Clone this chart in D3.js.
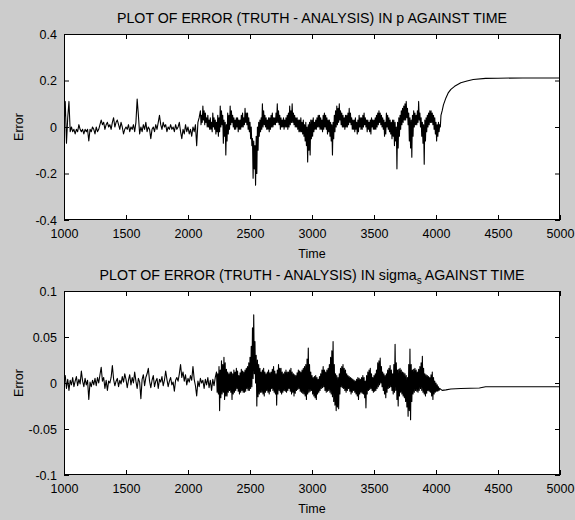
<!DOCTYPE html>
<html>
<head>
<meta charset="utf-8">
<script src="https://cdn.jsdelivr.net/npm/d3@7/dist/d3.min.js"></script>
<style>
  html, body { margin: 0; padding: 0; background: #cccccc; }
  svg { display: block; }
</style>
</head>
<body>
<script>
// ---- data --------------------------------------------------------------
// Each series is logged in three stretches: a quiet spin-up stretch sampled
// every 10 time units, a busy assimilation stretch sampled every 5 units,
// and a free-running stretch after the last analysis at irregular times.

// Error in p
const pQuietStart = 1000, pQuietStep = 10;
const pQuiet = [
  .00, .11, -.07, .04, .11, -.02, .00, -.02, -.01, -.03,
  -.01, -.02, .01, -.01, -.02, -.01, -.03, -.01, -.02, -.01,
  -.06, -.01, -.02, .00, -.01, -.03, .00, -.02, -.01, .01,
  .03, .01, .02, -.01, .01, .02, .00, .01, -.01, .02,
  .04, .00, .02, .03, .01, -.01, .02, .00, -.03, -.01,
  .00, -.01, .01, -.02, .00, -.01, .01, -.02, .02, .12,
  .05, -.03, .00, -.02, .01, -.01, .02, -.02, .00, -.01,
  -.05, -.01, .00, -.02, .01, -.01, .02, .05, .01, -.01,
  .02, .00, .01, -.02, .00, -.01, .01, -.01, .00, -.02,
  .01, -.01, .00, .02, -.02, -.05, -.01, -.03, .01, -.02,
  .00, -.03, -.01, -.04, .00, -.02, .01, -.08, .02, .04
];
const pBusyStart = 2100, pBusyStep = 5;
const pBusy = [
  .07, .01, .05, .02, .09, .03, .07, .01, .06, .02, .04, .00, .05, .00, .03, -.01, .04, -.01, .02, -.02,
  .06, .00, .04, -.01, .03, -.03, .02, -.02, .05, -.04, .04, -.02, .09, .00, .07, .01, .05, -.07, .03, -.04,
  .02, -.12, .01, -.06, .06, -.03, .05, -.01, .09, .01, .07, .02, .05, .00, .04, -.01, .03, -.01, .04, .00,
  .04, -.02, .03, -.01, .03, -.01, .05, .00, .06, .00, .04, .01, .08, .02, .06, .01, .06, -.01, .04, -.02,
  .02, -.05, .00, -.08, -.05, -.22, -.06, -.18, -.08, -.25, -.04, -.20, .00, -.10, .02, -.04, .03, -.02, .04, -.01,
  .10, .00, .07, .01, .05, .00, .04, -.01, .03, -.01, .04, -.02, .04, -.01, .05, .00, .06, .00, .04, .01,
  .04, .01, .06, .02, .10, .02, .07, .01, .05, -.01, .04, .00, .03, .00, .04, -.01, .03, .00, .04, .00,
  .05, -.01, .06, .00, .09, .01, .07, .02, .10, .02, .06, .01, .05, .00, .04, .00, .04, -.01, .03, -.02,
  .03, -.02, .04, -.02, .02, -.03, .03, -.04, .01, -.06, .02, -.08, .00, -.15, .01, -.10, .02, -.12, .03, -.05,
  .03, -.04, .04, -.02, .02, -.01, .03, -.01, .04, .00, .05, .00, .05, -.01, .04, -.01, .03, -.02, .05, -.01,
  .06, .00, .05, -.01, .04, -.03, .03, -.02, .03, -.04, .02, -.06, .01, -.12, .02, -.05, .05, -.02, .07, .00,
  .09, .01, .08, .02, .10, .03, .07, .01, .06, .00, .05, .00, .04, -.01, .05, .00, .05, .00, .06, .01,
  .08, .02, .06, .01, .04, -.01, .03, -.01, .03, -.02, .04, -.01, .02, -.03, .03, -.02, .05, .00, .04, -.01,
  .04, -.01, .05, .00, .06, .01, .04, .00, .03, -.02, .03, -.01, .02, -.02, .03, -.03, .04, .00, .03, -.01,
  .03, -.01, .04, -.01, .05, .00, .06, .01, .07, .02, .06, .01, .05, .00, .04, -.01, .03, -.04, .02, -.03,
  .06, .00, .05, -.01, .04, -.02, .03, -.03, .02, -.05, .03, -.04, .03, -.08, .02, -.06, .00, -.18, .02, -.09,
  .04, -.04, .05, -.01, .07, .01, .08, .02, .09, .03, .10, .03, .11, .04, .08, .01, .06, -.06, .04, -.09,
  .03, -.13, .05, -.04, .07, .00, .06, .01, .05, .01, .07, .02, .11, .03, .06, .00, .04, -.04, .02, -.07,
  .01, -.16, .03, -.06, .04, -.02, .05, .00, .06, .01, .07, .02, .07, .02, .06, .01, .05, -.01, .04, -.03,
  .02, -.06, .01, -.04, .02, -.02, .01, .00
];
const pFreeTime  = [4040, 4050, 4060, 4080, 4100, 4120, 4150, 4200, 4250, 4300, 4400, 4500, 4700, 5000];
const pFreeValue = [.05, .07, .095, .125, .148, .162, .175, .19, .198, .204, .209, .21, .211, .211];

// Error in sigma_s
const sQuietStart = 1000, sQuietStep = 10;
const sQuiet = [
  .002, .008, -.006, .004, -.008, .003, -.002, .006, -.004, .002,
  .007, -.003, .004, -.001, .013, .002, -.004, .005, -.002, .003,
  -.018, .001, -.004, .003, -.002, .005, -.003, .006, .000, .009,
  .017, .002, .006, -.006, .003, -.008, .002, .000, .006, .019,
  .004, -.003, .002, .005, -.004, .003, -.001, .007, .001, .010,
  .004, -.005, .003, .009, -.002, .006, .000, .012, .002, -.006,
  .005, .001, -.017, .004, .009, -.003, .006, .010, .016, .002,
  -.005, .003, .008, -.004, .002, .005, -.006, .004, .001, .007,
  -.003, .003, .013, .004, -.004, .002, .006, -.002, .001, -.009,
  .003, .006, .002, .010, .020, .006, .012, .002, .009, -.002,
  .005, .001, .008, .003, .018, .004, -.003, -.014, .002, -.004,
  .005, .000, .003, -.006, .004, -.002, .006, -.005, .003, -.008,
  .004, -.003, .006
];
const sBusyStart = 2230, sBusyStep = 5;
const sBusy = [
  .012, -.010, .010, -.012, .018, -.030, .014, -.016, .024, -.012, .020, -.010, .028, -.018, .022, -.014, .015, -.014, .012, -.010,
  .010, -.008, .012, -.010, .012, -.018, .010, -.012, .014, -.010, .012, -.008, .016, -.006, .013, -.009, .008, -.012, .011, -.010,
  .015, -.008, .013, -.010, .012, -.010, .014, -.009, .016, -.006, .018, -.008, .022, -.008, .028, -.006, .040, -.004, .060, .005,
  .074, .010, .045, .000, .030, -.025, .025, -.015, .020, -.012, .016, -.010, .012, -.010, .014, -.012, .016, -.014, .012, -.010,
  .010, -.008, .012, -.010, .014, -.012, .011, -.009, .012, -.006, .015, -.008, .018, -.010, .013, -.012, .010, -.024, .014, -.012,
  .020, -.008, .016, -.010, .016, -.012, .012, -.010, .010, -.008, .012, -.009, .014, -.010, .012, -.008, .012, -.006, .014, -.009,
  .016, -.012, .012, -.010, .010, -.014, .009, -.011, .008, -.008, .011, -.007, .014, -.006, .013, -.009, .012, -.010, .014, -.011,
  .016, -.012, .018, -.014, .020, -.018, .026, -.012, .038, -.010, .020, -.009, .012, -.008, .008, -.012, .006, -.014, .007, -.016,
  .008, -.018, .006, -.012, .004, -.010, .007, -.008, .010, -.006, .014, -.005, .018, -.004, .014, -.008, .012, -.010, .014, -.009,
  .016, -.008, .020, -.010, .028, -.012, .035, -.015, .045, -.020, .020, -.024, .010, -.030, .008, -.026, .006, -.028, .010, -.012,
  .016, -.004, .018, -.005, .020, -.006, .016, -.008, .014, -.010, .010, -.008, .008, -.006, .007, -.009, .006, -.012, .005, -.010,
  .004, -.008, .003, -.010, .002, -.012, .004, -.014, .006, -.018, .005, -.012, .004, -.010, .006, -.011, .008, -.012, .006, -.016,
  .002, -.027, .008, -.012, .012, -.008, .014, -.007, .016, -.006, .010, -.008, .006, -.010, .008, -.009, .010, -.008, .014, -.006,
  .022, -.004, .024, -.002, .027, .000, .018, -.004, .012, -.008, .010, -.012, .008, -.016, .010, -.010, .014, -.006, .016, -.005,
  .019, -.004, .014, -.008, .010, -.012, .020, -.010, .042, -.008, .022, -.018, .014, -.025, .015, -.014, .016, -.010, .014, -.012,
  .012, -.014, .011, -.016, .010, -.020, .008, -.026, .006, -.036, .020, -.030, .037, -.040, .020, -.020, .014, -.012, .015, -.010,
  .016, -.008, .014, -.009, .012, -.010, .015, -.008, .018, -.006, .022, -.008, .029, -.010, .016, -.012, .010, -.014, .009, -.011,
  .008, -.008, .007, -.009, .006, -.010, .009, -.014, .012, -.018, .006, -.012, .002, -.010, .000, -.009, -.002, -.009, -.004, -.008
];
const sFreeTime  = [4030, 4050, 4080, 4120, 4200, 4350, 4400, 5000];
const sFreeValue = [-.006, -.008, -.0075, -.0065, -.006, -.0055, -.004, -.004];

// Axis ticks and labels
const timeTicks = [1000, 1500, 2000, 2500, 3000, 3500, 4000, 4500, 5000];
const pTicks = [-0.4, -0.2, 0, 0.2, 0.4];
const pTickLabels = ["-0.4", "-0.2", "0", "0.2", "0.4"];
const sTicks = [-0.1, -0.05, 0, 0.05, 0.1];
const sTickLabels = ["-0.1", "-0.05", "0", "0.05", "0.1"];

// ---- drawing -----------------------------------------------------------
const W = 575, H = 520;
const FONT = "'Liberation Sans', Arial, Helvetica, sans-serif";

const svg = d3.select("body").append("svg")
  .attr("width", W).attr("height", H)
  .style("background", "#cccccc");

// Join the three stretches into one time-ordered record
function record(quiet, qStart, qStep, busy, bStart, bStep, freeT, freeV) {
  const pts = quiet.map((v, i) => ({ t: qStart + i * qStep, v }));
  busy.forEach((v, i) => pts.push({ t: bStart + i * bStep, v }));
  freeT.forEach((t, i) => pts.push({ t, v: freeV[i] }));
  return pts;
}

function panel(opts) {
  const { left, right, top, bottom, yDomain, yTicks, yLabels, points, title, id } = opts;
  const x = d3.scaleLinear().domain([1000, 5000]).range([left, right]);
  const y = d3.scaleLinear().domain(yDomain).range([bottom, top]);

  const g = svg.append("g");

  g.append("rect")
    .attr("x", left).attr("y", top)
    .attr("width", right - left).attr("height", bottom - top)
    .attr("fill", "#ffffff");

  g.append("clipPath").attr("id", id)
    .append("rect")
    .attr("x", left).attr("y", top)
    .attr("width", right - left).attr("height", bottom - top);

  const line = d3.line().x(d => x(d.t)).y(d => y(d.v));
  g.append("path")
    .datum(points)
    .attr("clip-path", `url(#${id})`)
    .attr("fill", "none")
    .attr("stroke", "#000")
    .attr("stroke-width", 1.1)
    .attr("stroke-linejoin", "round")
    .attr("d", line);

  const styleAxis = sel => {
    sel.select(".domain").remove();
    sel.selectAll(".tick line").attr("stroke", "#000");
    sel.selectAll(".tick text")
      .attr("fill", "#000")
      .attr("font-family", FONT)
      .attr("font-size", "12.5px");
  };

  g.append("g").attr("transform", `translate(0,${bottom})`)
    .call(d3.axisBottom(x).tickValues(timeTicks).tickSize(-5).tickSizeOuter(0)
      .tickPadding(9).tickFormat(d3.format("d")))
    .call(styleAxis);
  g.append("g").attr("transform", `translate(0,${top})`)
    .call(d3.axisTop(x).tickValues(timeTicks).tickSize(-5).tickSizeOuter(0).tickFormat(""))
    .call(styleAxis);
  g.append("g").attr("transform", `translate(${left},0)`)
    .call(d3.axisLeft(y).tickValues(yTicks).tickSize(-5).tickSizeOuter(0)
      .tickPadding(7).tickFormat((d, i) => yLabels[i]))
    .call(styleAxis);
  g.append("g").attr("transform", `translate(${right},0)`)
    .call(d3.axisRight(y).tickValues(yTicks).tickSize(-5).tickSizeOuter(0).tickFormat(""))
    .call(styleAxis);

  g.append("rect")
    .attr("x", left + 0.5).attr("y", top + 0.5)
    .attr("width", right - left - 1).attr("height", bottom - top - 1)
    .attr("fill", "none").attr("stroke", "#000").attr("stroke-width", 1);

  // Axis titles
  g.append("text")
    .attr("x", (left + right) / 2).attr("y", bottom + 38)
    .attr("text-anchor", "middle")
    .attr("font-family", FONT).attr("font-size", "12.5px")
    .text("Time");
  g.append("text")
    .attr("transform", `translate(${23},${(top + bottom) / 2}) rotate(-90)`)
    .attr("text-anchor", "middle")
    .attr("font-family", FONT).attr("font-size", "12.5px")
    .text("Error");

  // Panel title
  const t = g.append("text")
    .attr("x", (left + right) / 2).attr("y", top - 11)
    .attr("text-anchor", "middle")
    .attr("font-family", FONT).attr("font-size", "14.2px");
  title(t);
}

panel({
  id: "clip-p", left: 64, right: 560, top: 34, bottom: 220,
  yDomain: [-0.4, 0.4], yTicks: pTicks, yLabels: pTickLabels,
  points: record(pQuiet, pQuietStart, pQuietStep, pBusy, pBusyStart, pBusyStep, pFreeTime, pFreeValue),
  title: t => t.text("PLOT OF ERROR (TRUTH - ANALYSIS) IN p AGAINST TIME")
});

panel({
  id: "clip-s", left: 64, right: 560, top: 291, bottom: 475,
  yDomain: [-0.1, 0.1], yTicks: sTicks, yLabels: sTickLabels,
  points: record(sQuiet, sQuietStart, sQuietStep, sBusy, sBusyStart, sBusyStep, sFreeTime, sFreeValue),
  title: t => {
    t.append("tspan").text("PLOT OF ERROR (TRUTH - ANALYSIS) IN sigma");
    t.append("tspan").attr("font-size", "10px").attr("dy", "4").text("s");
    t.append("tspan").attr("dy", "-4").text(" AGAINST TIME");
  }
});
</script>
</body>
</html>
